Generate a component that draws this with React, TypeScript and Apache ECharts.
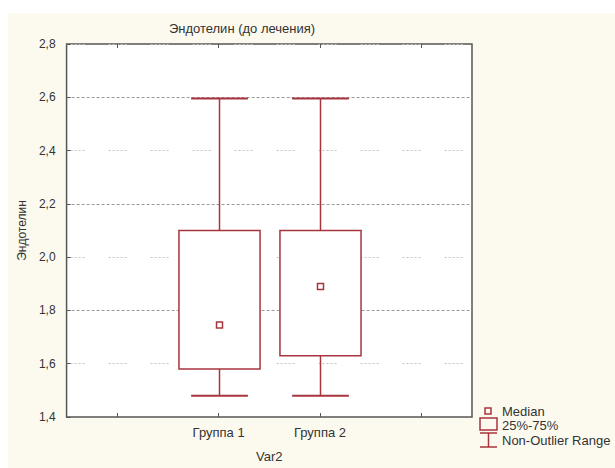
import React, { useEffect, useRef } from "react";
import * as echarts from "echarts";

const categories = ["", "Группа 1", "Группа 2", ""];
const groups = ["Группа 1", "Группа 2"];
const minValues = [1.48, 1.48];
const q1Values = [1.58, 1.63];
const medianValues = [1.745, 1.89];
const q3Values = [2.1, 2.1];
const maxValues = [2.595, 2.595];
const yTicks = [1.4, 1.6, 1.8, 2.0, 2.2, 2.4, 2.6, 2.8];

const RED = "#a8343e";
const TEXT = "#333";
const FONT = "Liberation Sans, Arial, sans-serif";

export default function App() {
  const ref = useRef<HTMLDivElement>(null);
  useEffect(() => {
    if (!ref.current) return;
    const chart = echarts.init(ref.current, undefined, { renderer: "svg" });
    const data = groups.map((g, i) => [
      categories.indexOf(g),
      minValues[i],
      q1Values[i],
      medianValues[i],
      q3Values[i],
      maxValues[i],
    ]);
    const minorColors = yTicks.map((_, i) => (i % 2 === 1 ? "#c4c4c4" : "rgba(0,0,0,0)"));
    const majorColors = yTicks.map((_, i) =>
      i % 2 === 0 && i !== 0 && i !== yTicks.length - 1 ? "#9a9a9a" : "rgba(0,0,0,0)"
    );
    const fmt = (v: number) => v.toFixed(1).replace(".", ",");
    const option: any = {
      animation: false,
      backgroundColor: "#fcfaef",
      textStyle: { fontFamily: FONT },
      grid: {
        left: 51,
        top: 31,
        right: 143,
        bottom: 44,
        show: true,
        backgroundColor: "#ffffff",
        borderColor: "#555",
        borderWidth: 1.5,
      },
      graphic: [
        {
          type: "text",
          x: 234,
          y: 15,
          style: {
            text: "Эндотелин (до лечения)",
            fill: TEXT,
            font: `13px ${FONT}`,
            textAlign: "center",
            verticalAlign: "middle",
          },
        },
        {
          type: "rect",
          shape: { x: 477, y: 395, width: 6, height: 6 },
          style: { stroke: RED, lineWidth: 1.5, fill: "none" },
        },
        {
          type: "text",
          x: 494,
          y: 398,
          style: { text: "Median", fill: TEXT, font: `13px ${FONT}`, verticalAlign: "middle" },
        },
        {
          type: "rect",
          shape: { x: 472, y: 405, width: 17, height: 12 },
          style: { stroke: RED, lineWidth: 1.5, fill: "none" },
        },
        {
          type: "text",
          x: 494,
          y: 412,
          style: { text: "25%-75%", fill: TEXT, font: `13px ${FONT}`, verticalAlign: "middle" },
        },
        { type: "line", shape: { x1: 472, y1: 420, x2: 489, y2: 420 }, style: { stroke: RED, lineWidth: 1.5 } },
        { type: "line", shape: { x1: 480.5, y1: 420, x2: 480.5, y2: 434 }, style: { stroke: RED, lineWidth: 1.5 } },
        { type: "line", shape: { x1: 472, y1: 434, x2: 489, y2: 434 }, style: { stroke: RED, lineWidth: 1.5 } },
        {
          type: "text",
          x: 494,
          y: 427,
          style: { text: "Non-Outlier Range", fill: TEXT, font: `13px ${FONT}`, verticalAlign: "middle" },
        },
      ],
      xAxis: [
        {
          type: "category",
          data: categories,
          position: "bottom",
          boundaryGap: true,
          name: "Var2",
          nameLocation: "middle",
          nameGap: 33,
          nameTextStyle: { color: TEXT, fontSize: 13, fontFamily: FONT },
          axisLine: { show: false },
          axisTick: { show: true, inside: true, alignWithLabel: true, length: 4, lineStyle: { color: "#555" } },
          axisLabel: { color: TEXT, fontSize: 13, fontFamily: FONT, margin: 9, interval: 0 },
          splitLine: { show: false },
        },
        {
          type: "category",
          data: categories,
          position: "top",
          boundaryGap: true,
          axisLine: { show: false },
          axisTick: { show: true, inside: true, alignWithLabel: true, length: 4, lineStyle: { color: "#555" } },
          axisLabel: { show: false },
          splitLine: { show: false },
        },
      ],
      yAxis: [
        {
          type: "value",
          min: 1.4,
          max: 2.8,
          interval: 0.2,
          name: "Эндотелин",
          nameLocation: "middle",
          nameGap: 36,
          nameTextStyle: { color: TEXT, fontSize: 12, fontFamily: FONT },
          axisLine: { show: false },
          axisTick: { show: true, inside: true, length: 4, lineStyle: { color: "#555" } },
          axisLabel: { color: TEXT, fontSize: 12, fontFamily: FONT, margin: 11, formatter: fmt },
          splitLine: {
            show: true,
            lineStyle: { color: minorColors, width: 1, type: [2, 2, 2, 2, 2, 2, 2, 2, 2, 24] },
          },
        },
        {
          type: "value",
          min: 1.4,
          max: 2.8,
          interval: 0.2,
          position: "left",
          axisLine: { show: false },
          axisTick: { show: false },
          axisLabel: { show: false },
          splitLine: {
            show: true,
            lineStyle: { color: majorColors, width: 1, type: [3, 2] },
          },
        },
      ],
      series: [
        {
          type: "custom",
          xAxisIndex: 0,
          yAxisIndex: 0,
          data,
          encode: { x: 0, y: [1, 2, 3, 4, 5] },
          z: 5,
          renderItem: (params: any, api: any) => {
            const x = api.value(0);
            const lo = api.coord([x, api.value(1)]);
            const q1 = api.coord([x, api.value(2)]);
            const med = api.coord([x, api.value(3)]);
            const q3 = api.coord([x, api.value(4)]);
            const hi = api.coord([x, api.value(5)]);
            const band = api.size([1, 0])[0];
            const bw = band * 0.8;
            const cw = band * 0.56;
            const style = { stroke: RED, lineWidth: 1.5, fill: "none" };
            const cx = Math.round(lo[0]) + 0.5;
            return {
              type: "group",
              children: [
                { type: "line", shape: { x1: cx, y1: hi[1], x2: cx, y2: q3[1] }, style },
                { type: "line", shape: { x1: cx, y1: q1[1], x2: cx, y2: lo[1] }, style },
                { type: "line", shape: { x1: cx - cw / 2, y1: hi[1], x2: cx + cw / 2, y2: hi[1] }, style: { ...style, lineWidth: 2 } },
                { type: "line", shape: { x1: cx - cw / 2, y1: lo[1], x2: cx + cw / 2, y2: lo[1] }, style: { ...style, lineWidth: 2 } },
                {
                  type: "rect",
                  shape: { x: cx - bw / 2, y: q3[1], width: bw, height: q1[1] - q3[1] },
                  style: { ...style, fill: "#ffffff" },
                },
                {
                  type: "rect",
                  shape: { x: cx - 3, y: med[1] - 3, width: 6, height: 6 },
                  style,
                },
              ],
            };
          },
        },
      ],
    };
    chart.setOption(option);
    return () => chart.dispose();
  }, []);
  return (
    <div
      ref={ref}
      style={{ position: "absolute", left: 8, top: 13, width: 607, height: 455 }}
    />
  );
}
